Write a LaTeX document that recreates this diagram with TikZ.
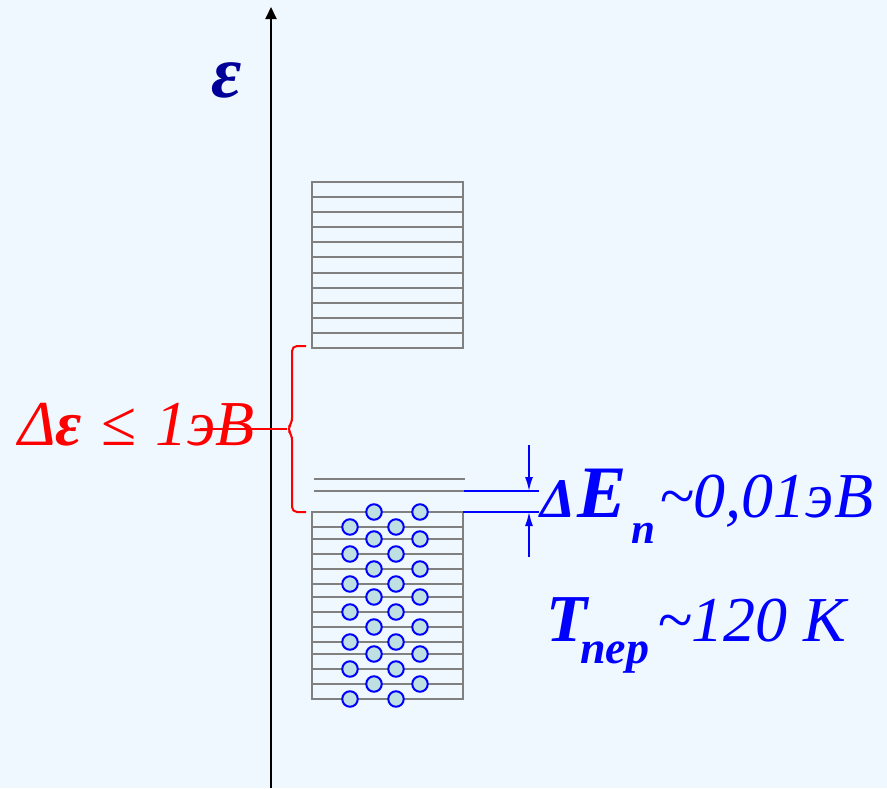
\documentclass[tikz,border=0pt]{standalone}
\usepackage{fontspec}
\setmainfont{Liberation Serif}
\usetikzlibrary{arrows.meta}
\definecolor{bg}{RGB}{240,248,255}
\definecolor{lvl}{RGB}{128,128,128}
\definecolor{efill}{RGB}{190,224,227}
\definecolor{navyb}{RGB}{0,0,153}
\begin{document}
\begin{tikzpicture}[x=1pt,y=-1pt,
  level/.style={draw=lvl,line width=2pt},
  electron/.style={circle,draw=blue,fill=efill,line width=2pt,minimum size=15.5pt,inner sep=0pt},
  gapline/.style={draw=blue,line width=2pt},
  gaparrow/.style={draw=blue,line width=1.5pt,-{Latex[length=14pt,width=8pt]}},
  lbl/.style={anchor=base west,inner sep=0pt}]
\fill[bg] (0,0) rectangle (887,788);
\useasboundingbox (0,0) rectangle (887,788);
% axis
\coordinate (axb) at (271,788);
\coordinate (axt) at (271,7);
\draw[line width=2pt,-{Triangle[length=12pt,width=11pt]}] (axb) -- (axt);
\node[text=navyb,inner sep=0pt] (eps) at (227,80) {\fontsize{74}{78}\selectfont\bfseries\itshape ε};
% upper band
\draw[level] (312,182) rectangle (463,348);
\foreach \i [evaluate=\i as \yy using 182+\i*166/11] in {1,...,10}
  \draw[level] (312,\yy) -- (463,\yy);
% gap levels
\draw[level] (314,479) -- (465,479);
\draw[level] (314,491) -- (465,491);
% lower band
\draw[level] (312,512) rectangle (463,699);
\foreach \yy in {527,539,554,569,584,597,612,627,642,654,669,684}
  \draw[level] (312,\yy) -- (463,\yy);
\foreach \yy [count=\k] in {512,527,539,554,569,584,597,612,627,642,654,669,684,699}{
  \pgfmathsetmacro\xa{ifthenelse(mod(\k,2)==1,374,350)}
  \node[electron] (ea\k) at (\xa,\yy) {};
  \node[electron] (eb\k) at (\xa+46,\yy) {};
}
% gap markers
\coordinate (g1) at (464,491);
\coordinate (g1e) at (539,491);
\coordinate (g0) at (463,512);
\coordinate (g0e) at (539,512);
\draw[gapline] (g1) -- (g1e);
\draw[gapline] (g0) -- (g0e);
\coordinate (at) at (529,445);
\coordinate (ta) at (529,491);
\coordinate (ab) at (529,557);
\coordinate (tb) at (529,512);
\draw[gaparrow] (at) -- (ta);
\draw[gaparrow] (ab) -- (tb);
% red brace
\coordinate (bt) at (287,429);
\coordinate (bl) at (200,429);
\draw[red,line width=2pt,rounded corners=5pt] (306,346) -- (292,346) -- (292,423) -- (bt) -- (292,435) -- (292,512) -- (306,512);
\draw[red,line width=1.6pt] (bl) -- (bt);
\node[lbl,text=red] (dlt) at (18,445) {\fontsize{64}{70}\selectfont\itshape Δ\textbf{ε}\hspace{0.3em}\upshape≤\hspace{0.3em}\itshape 1эВ};
% blue labels
\node[lbl,text=blue] (dD) at (540,517) {\fontsize{56}{60}\selectfont\bfseries\itshape Δ};
\node[lbl,text=blue] (dE) at (577,517) {\fontsize{74}{78}\selectfont\bfseries\itshape E};
\node[lbl,text=blue] (dEn) at (631,543) {\fontsize{43}{44}\selectfont\bfseries\itshape n};
\node[lbl,text=blue] (dEv) at (659,517) {\fontsize{64}{66}\selectfont\itshape \textasciitilde0,01эВ};
\node[lbl,text=blue] (Tp) at (546,641) {\fontsize{67}{70}\selectfont\bfseries\itshape T};
\node[lbl,text=blue] (Tps) at (580,663) {\fontsize{46}{48}\selectfont\bfseries\itshape пер};
\node[lbl,text=blue] (Tpv) at (657,641) {\fontsize{64}{66}\selectfont\itshape \textasciitilde120 К};
\end{tikzpicture}
\end{document}
